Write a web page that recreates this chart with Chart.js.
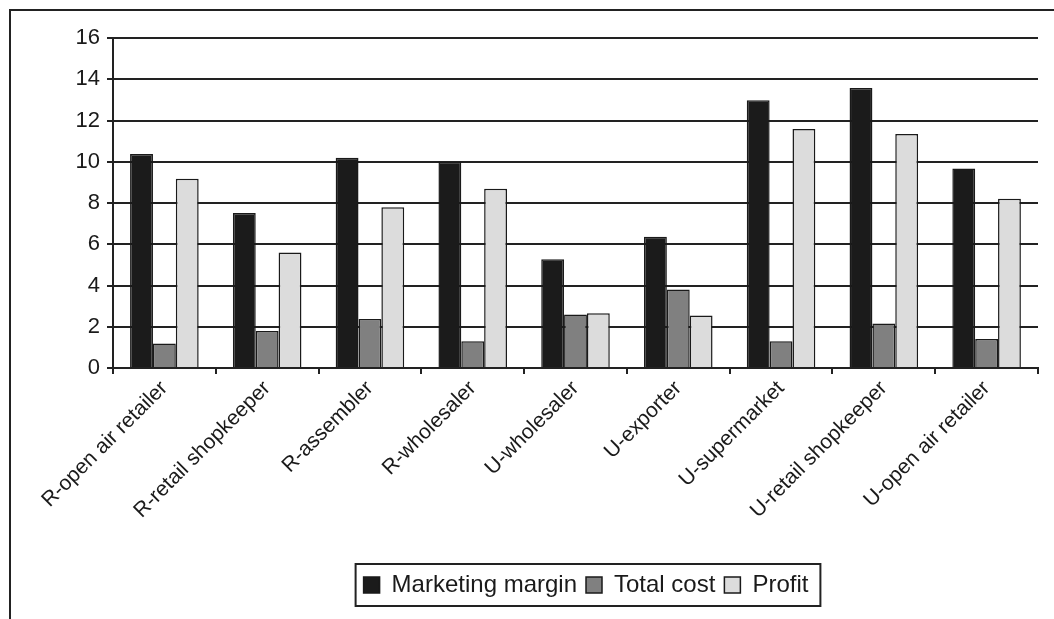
<!DOCTYPE html>
<html>
<head>
<meta charset="utf-8">
<script src="https://cdn.jsdelivr.net/npm/chart.js@4.4.1/dist/chart.umd.min.js"></script>
<style>
  body { margin: 0; background: #fff; }
  #frame { position: absolute; left: 9px; top: 9px; width: 1100px; height: 700px;
           border-left: 2px solid #222; border-top: 2px solid #222; }
  #chart { position: absolute; left: 0; top: 0; }
</style>
</head>
<body>
<div id="frame"></div>
<canvas id="chart" width="1054" height="619"></canvas>
<script>
const categories = [
  "R-open air retailer", "R-retail shopkeeper", "R-assembler", "R-wholesaler",
  "U-wholesaler", "U-exporter", "U-supermarket", "U-retail shopkeeper", "U-open air retailer"
];
const marketingMargin = [10.38, 7.51, 10.19, 10.0, 5.27, 6.36, 12.98, 13.58, 9.67];
const totalCost = [1.19, 1.8, 2.37, 1.3, 2.6, 3.81, 1.3, 2.16, 1.41];
const profit = [9.17, 5.6, 7.8, 8.69, 2.65, 2.55, 11.59, 11.35, 8.21];
const yTicks = [0, 2, 4, 6, 8, 10, 12, 14, 16];

const ink = "#1a1a1a";
const fontFamily = "'Liberation Sans', Arial, sans-serif";

// legend sits right of centre in the original, and has a box round it
const legendTweak = {
  id: "legendTweak",
  afterLayout(chart) {
    const l = chart.legend;
    const dx = 586 - (l.left + l.right) / 2;
    l.left += dx;
    l.right += dx;
  },
  afterDraw(chart) {
    const boxes = chart.legend.legendHitBoxes;
    if (!boxes || !boxes.length) return;
    const left = Math.min(...boxes.map(b => b.left)) - 8;
    const right = Math.max(...boxes.map(b => b.left + b.width)) + 12;
    const midY = boxes[0].top + boxes[0].height / 2;
    const ctx = chart.ctx;
    ctx.save();
    ctx.strokeStyle = "#222";
    ctx.lineWidth = 2;
    ctx.strokeRect(left, midY - 21, right - left, 42);
    ctx.restore();
  }
};

new Chart(document.getElementById("chart"), {
  type: "bar",
  data: {
    labels: categories,
    datasets: [
      { label: "Marketing margin", data: marketingMargin, backgroundColor: "#1b1b1b", borderColor: ink, borderWidth: 1.5 },
      { label: "Total cost", data: totalCost, backgroundColor: "#808080", borderColor: ink, borderWidth: 1.5 },
      { label: "Profit", data: profit, backgroundColor: "#dcdcdc", borderColor: ink, borderWidth: 1.5 },
    ],
  },
  options: {
    responsive: false,
    animation: false,
    layout: { padding: { left: 0, right: 16, top: 38, bottom: 12 } },
    datasets: { bar: { categoryPercentage: 0.667, barPercentage: 1.0 } },
    plugins: {
      tooltip: { enabled: false },
      legend: {
        position: "bottom",
        labels: {
          color: ink,
          font: { family: fontFamily, size: 24 },
          boxWidth: 16,
          boxHeight: 16,
          padding: 9,
        },
      },
    },
    scales: {
      x: {
        ticks: {
          color: ink,
          font: { family: fontFamily, size: 21 },
          minRotation: 45,
          maxRotation: 45,
          padding: 2,
        },
        grid: { drawOnChartArea: false, color: "#222", lineWidth: 2, tickLength: 6 },
        border: { color: "#222", width: 2 },
        afterFit(scale) { scale.height = 196; },
      },
      y: {
        min: 0,
        max: 16,
        afterBuildTicks(scale) { scale.ticks = yTicks.map(v => ({ value: v })); },
        ticks: { color: ink, font: { family: fontFamily, size: 22 }, padding: 7 },
        grid: { color: "#222", lineWidth: 2, tickLength: 6 },
        border: { color: "#222", width: 2 },
        afterFit(scale) { scale.width = 113; },
      },
    },
  },
  plugins: [legendTweak],
});
</script>
</body>
</html>
